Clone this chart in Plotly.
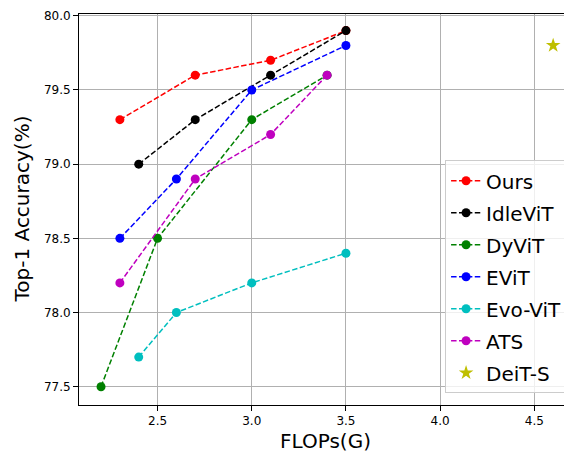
import plotly.graph_objects as go

# Data
names = ["Ours", "IdleViT", "DyViT", "EViT", "Evo-ViT", "ATS"]
ours_x = [2.3, 2.7, 3.1, 3.5]
ours_y = [79.3, 79.6, 79.7, 79.9]
idle_x = [2.4, 2.7, 3.1, 3.5]
idle_y = [79.0, 79.3, 79.6, 79.9]
dyvit_x = [2.2, 2.5, 3.0, 3.4]
dyvit_y = [77.5, 78.5, 79.3, 79.6]
evit_x = [2.3, 2.6, 3.0, 3.5]
evit_y = [78.5, 78.9, 79.5, 79.8]
evo_x = [2.4, 2.6, 3.0, 3.5]
evo_y = [77.7, 78.0, 78.2, 78.4]
ats_x = [2.3, 2.7, 3.1, 3.4]
ats_y = [78.2, 78.9, 79.2, 79.6]
deit_x = [4.6]
deit_y = [79.8]

x_ticks = [2.5, 3.0, 3.5, 4.0, 4.5]
x_tick_labels = ["2.5", "3.0", "3.5", "4.0", "4.5"]
y_ticks = [77.5, 78.0, 78.5, 79.0, 79.5, 80.0]
y_tick_labels = ["77.5", "78.0", "78.5", "79.0", "79.5", "80.0"]

series = [
    (names[0], ours_x, ours_y, "#ff0000"),
    (names[1], idle_x, idle_y, "#000000"),
    (names[2], dyvit_x, dyvit_y, "#008000"),
    (names[3], evit_x, evit_y, "#0000ff"),
    (names[4], evo_x, evo_y, "#00bfbf"),
    (names[5], ats_x, ats_y, "#bf00bf"),
]

FONT = "DejaVu Sans"
fig = go.Figure()
for name, xs, ys, col in series:
    fig.add_trace(go.Scatter(
        x=xs, y=ys, name=name, mode="lines+markers", legendgroup=name,
        line=dict(color=col, width=1.5, dash="5.5px,2.4px"),
        marker=dict(color=col, size=9, symbol="circle"),
    ))
fig.add_trace(go.Scatter(
    x=deit_x, y=deit_y, name="DeiT-S", mode="markers", legendgroup="DeiT-S",
    marker=dict(color="#bfbf00", size=11, symbol="star"),
))

# page body has an 8px margin; the figure is sized to fill the rest
fig.update_layout(
    width=564, height=449,
    margin=dict(l=71, r=0, t=6, b=52),
    paper_bgcolor="white", plot_bgcolor="white",
    font=dict(family=FONT, color="black"),
    showlegend=True,
    legend=dict(
        x=0.99, y=0.03, xanchor="right", yanchor="bottom",
        font=dict(size=20, family=FONT),
        bgcolor="rgba(255,255,255,0.8)", bordercolor="#cccccc", borderwidth=1,
        tracegroupgap=3, itemsizing="trace",
    ),
    xaxis=dict(
        range=[2.083, 4.70], tickvals=x_ticks, ticktext=x_tick_labels,
        showgrid=True, gridcolor="#b0b0b0", gridwidth=1,
        showline=True, linecolor="black", linewidth=1, mirror=True,
        ticks="outside", ticklen=5, tickcolor="black",
        tickfont=dict(size=12, family=FONT), zeroline=False,
        title=dict(text="FLOPs(G)", font=dict(size=20, family=FONT), standoff=6),
    ),
    yaxis=dict(
        range=[77.377, 80.012], tickvals=y_ticks, ticktext=y_tick_labels,
        showgrid=True, gridcolor="#b0b0b0", gridwidth=1,
        showline=True, linecolor="black", linewidth=1,
        ticks="outside", ticklen=5, tickcolor="black",
        tickfont=dict(size=12, family=FONT), zeroline=False,
    ),
    annotations=[dict(
        text="Top-1 Accuracy(%)", textangle=-90, showarrow=False,
        xref="paper", yref="paper", x=0, y=0.5, xanchor="center", yanchor="middle",
        xshift=-58, font=dict(size=20, family=FONT),
    )],
)

fig.write_html("out.html")
